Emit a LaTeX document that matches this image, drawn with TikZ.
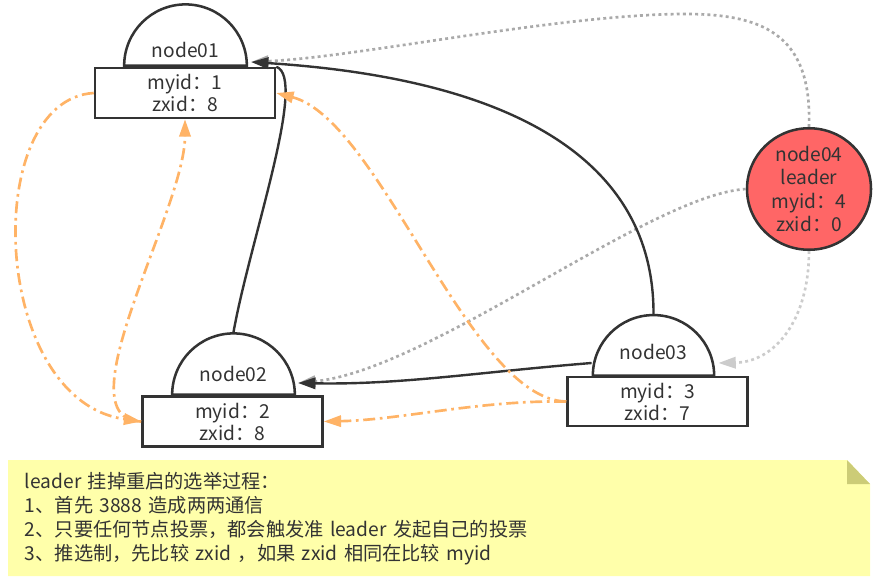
\documentclass[tikz,border=0pt]{standalone}
\usepackage{fontspec}
\setmainfont{Noto Sans CJK SC}
\usepackage{tikz}
\usetikzlibrary{arrows.meta,positioning,calc,shapes.geometric,backgrounds}
\definecolor{inkgray}{HTML}{333333}
\definecolor{dotgray}{HTML}{AAAAAA}
\definecolor{lightgray}{HTML}{CCCCCC}
\definecolor{voteorange}{HTML}{FFB366}
\definecolor{leaderred}{HTML}{FF6666}
\definecolor{noteyellow}{HTML}{FFFFAA}
\definecolor{notefold}{HTML}{CCCC77}

\begin{document}
\begin{tikzpicture}[
  x=0.75pt, y=-0.75pt,
  every node/.style={text=inkgray, font=\fontsize{14.4}{16.5}\selectfont},
  dome/.style={
    semicircle,
    draw=inkgray,
    line width=1.9pt,
    fill=white,
    minimum width=92pt,
    inner sep=0pt,
    anchor=chord center
  },
  idbox/.style={
    rectangle,
    draw=inkgray,
    line width=1.9pt,
    fill=white,
    minimum width=135pt,
    minimum height=37.5pt,
    align=center,
    inner sep=0pt
  },
  leader/.style={
    ellipse,
    draw=inkgray,
    line width=1.9pt,
    fill=leaderred,
    minimum width=93pt,
    minimum height=87pt,
    align=center,
    inner sep=0pt,
    font=\fontsize{14.4}{17.6}\selectfont
  },
  sync/.style={-{Triangle[length=13pt,width=8.5pt]}, line width=1.8pt, draw=inkgray},
  plain/.style={line width=1.8pt, draw=inkgray},
  probe/.style={-{Triangle[length=13pt,width=8.5pt]}, line width=2pt, draw=dotgray,
    dash pattern=on 2.2pt off 2.4pt},
  lightprobe/.style={probe, draw=lightgray, -{Triangle[length=13pt,width=8.5pt,fill=lightgray]}},
  vote/.style={-{Triangle[length=13pt,width=8.5pt]}, line width=2pt, draw=voteorange,
    dash pattern=on 9pt off 3.5pt on 2pt off 3.5pt}
]
\useasboundingbox (0,0) rectangle (879,582);

% the four servers
\node[dome] (n1top) at (185.5,67) {};
\node at (185.5,50) (n1name) {node01};
\node[idbox] (n1) at (185,93) {myid：1\\zxid：8};

\node[dome] (n2top) at (233.5,396) {};
\node at (233.5,374) (n2name) {node02};
\node[idbox] (n2) at (232.5,421.5) {myid：2\\zxid：8};

\node[dome, minimum width=91pt] (n3top) at (653.5,377) {};
\node at (653.5,352) (n3name) {node03};
\node[idbox, minimum height=36.75pt] (n3) at (657.5,401.5) {myid：3\\zxid：7};

\node[leader] (n4) at (809,189) {node04\\leader\\myid：4\\zxid：0};

% entry points on the domes
\coordinate (n1in) at ($(n1top.arc start)+(3,-5)$);
\coordinate (n2in) at ($(n2top.arc start)+(2,-13)$);
\coordinate (n3in) at ($(n3top.arc start)+(3,-14)$);
\coordinate (n3out) at ($(n3top.arc end)+(0,-14)$);

% leader probes
\draw[probe] (n4.north) .. controls (812,40) and (770,14) .. (686,14)
  .. controls (560,14) and (360,57) .. (n1in);
\draw[probe] (n4.west) .. controls (650,195) and (430,370) .. (n2in);
\draw[lightprobe] (n4.south) .. controls (809,320) and (775,362) .. (n3in);

% sync links
\draw[sync] (n3top.apex) .. controls (654,170) and (530,80) .. (n1in);
\draw[plain] (n1.north east) .. controls (308,78) and (250,240) .. (n2top.apex);
\draw[sync] (n3out) .. controls (480,372) and (400,385) .. (n2in);

% votes
\draw[vote] (n1.west) .. controls (-20,100) and (-10,400) .. (n2.west);
\draw[vote] (n2.west) .. controls (60,420) and (185,210) .. (n1.south);
\draw[vote] (n3.west) .. controls (470,400) and (380,120) .. (n1.east);
\draw[vote] (n3.west) .. controls (480,400) and (400,420) .. (n2.east);

% note
\node[text width=624pt, align=left, minimum height=86pt, inner sep=0pt,
  font=\fontsize{14.4}{18}\selectfont] (note) at (441,518.5)
  {leader 挂掉重启的选举过程：\\
   1、首先 3888 造成两两通信\\
   2、只要任何节点投票，都会触发准 leader 发起自己的投票\\
   3、推选制，先比较 zxid ，如果 zxid 相同在比较 myid};
\begin{scope}[on background layer]
  \fill[noteyellow] (8,576) -- (8,460) -- (847,460) -- (870,484) -- (870,576) -- cycle;
  \fill[notefold] (847,460) -- (847,484) -- (870,484) -- cycle;
\end{scope}
\end{tikzpicture}
\end{document}
